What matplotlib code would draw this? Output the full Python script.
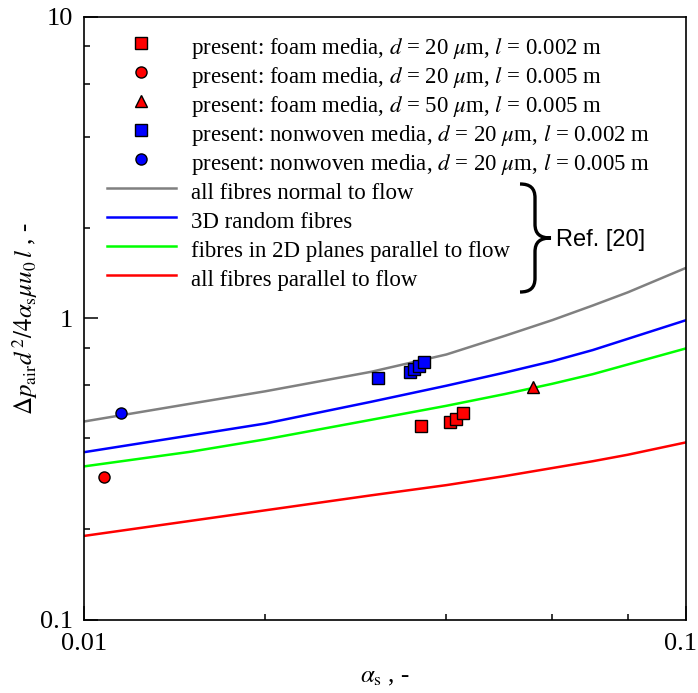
import numpy as np
import matplotlib
matplotlib.use('Agg')
import matplotlib.pyplot as plt
import matplotlib.transforms as mtransforms
from matplotlib.path import Path
from matplotlib.patches import PathPatch
from matplotlib.ticker import LogLocator, FixedLocator, NullFormatter

plt.rcParams['font.family'] = 'Liberation Serif'
plt.rcParams['mathtext.fontset'] = 'stix'

# model curves, Ref. [20]
alpha_model = [0.01, 0.015, 0.02, 0.03, 0.04, 0.05, 0.06, 0.07, 0.08, 0.1]
normal_flow = [0.455, 0.521, 0.573, 0.665, 0.759, 0.875, 0.987, 1.103, 1.219, 1.470]
random_3d = [0.360, 0.409, 0.448, 0.529, 0.598, 0.661, 0.721, 0.785, 0.855, 0.986]
planes_2d = [0.323, 0.361, 0.397, 0.461, 0.513, 0.561, 0.607, 0.653, 0.703, 0.795]
parallel_flow = [0.190, 0.213, 0.231, 0.259, 0.280, 0.300, 0.319, 0.336, 0.353, 0.388]

# measurements
foam20_l2_a = [0.0363, 0.0405, 0.0415, 0.0426]
foam20_l2_v = [0.441, 0.452, 0.464, 0.484]
foam20_l5_a = [0.0108]
foam20_l5_v = [0.298]
foam50_l5_a = [0.0557]
foam50_l5_v = [0.594]
nonw20_l2_a = [0.0308, 0.0348, 0.0354, 0.0360, 0.0367]
nonw20_l2_v = [0.636, 0.662, 0.678, 0.695, 0.715]
nonw20_l5_a = [0.0115]
nonw20_l5_v = [0.487]

fig = plt.figure(figsize=(6.98, 6.93), dpi=100)
ax = fig.add_axes([84/698, 1 - 620/693, 602/698, 603.3/693])

mk = dict(ls='none', ms=8, mec='black', mew=1.0)
ax.plot(foam20_l2_a, foam20_l2_v, marker='s', mfc='#ff0000', zorder=5, **mk,
        label=r'present: foam media, $d$ = 20 $\mu$m, $l$ = 0.002 m')
ax.plot(foam20_l5_a, foam20_l5_v, marker='o', mfc='#ff0000', zorder=5, **mk,
        label=r'present: foam media, $d$ = 20 $\mu$m, $l$ = 0.005 m')
ax.plot(foam50_l5_a, foam50_l5_v, marker='^', mfc='#ff0000', zorder=5, **mk,
        label=r'present: foam media, $d$ = 50 $\mu$m, $l$ = 0.005 m')
ax.plot(nonw20_l2_a, nonw20_l2_v, marker='s', mfc='#0000ff', zorder=5, **mk,
        label=r'present: nonwoven media, $d$ = 20 $\mu$m, $l$ = 0.002 m')
ax.plot(nonw20_l5_a, nonw20_l5_v, marker='o', mfc='#0000ff', zorder=5, **mk,
        label=r'present: nonwoven media, $d$ = 20 $\mu$m, $l$ = 0.005 m')

ax.plot(alpha_model, normal_flow, color='#808080', lw=1.8, label='all fibres normal to flow')
ax.plot(alpha_model, random_3d, color='#0000ff', lw=1.8, label='3D random fibres')
ax.plot(alpha_model, planes_2d, color='#00ff00', lw=1.8, label='fibres in 2D planes parallel to flow')
ax.plot(alpha_model, parallel_flow, color='#ff0000', lw=1.8, label='all fibres parallel to flow')

ax.set_xscale('log')
ax.set_yscale('log')
ax.set_xlim(0.01, 0.1)
ax.set_ylim(0.1, 10)
ax.xaxis.set_major_locator(FixedLocator([0.01, 0.1]))
ax.yaxis.set_major_locator(FixedLocator([0.1, 1, 10]))
ax.set_xticklabels(['0.01', '0.1'])
ax.set_yticklabels(['0.1', '1', '10'])
ax.xaxis.set_minor_locator(LogLocator(base=10, subs=[2, 4, 6, 8]))
ax.yaxis.set_minor_locator(LogLocator(base=10, subs=[2, 4, 6, 8]))
ax.xaxis.set_minor_formatter(NullFormatter())
ax.yaxis.set_minor_formatter(NullFormatter())
ax.tick_params(which='both', direction='in', top=False, right=False, width=1.1, labelsize=19)
ax.tick_params(which='major', length=10)
ax.tick_params(which='minor', length=4.5)
ax.tick_params(axis='x', pad=9)
ax.tick_params(axis='y', pad=8)
for s in ax.spines.values():
    s.set_linewidth(1.2)

# last x label sits at the figure edge, keep it inside
lab = ax.get_xticklabels()[-1]
lab.set_horizontalalignment('right')
lab.set_transform(lab.get_transform() + mtransforms.ScaledTranslation(0.11, 0, fig.dpi_scale_trans))

ax.set_xlabel(r'$\alpha_{\rm s}$ , -', fontsize=18, labelpad=8)
ax.set_ylabel(r'$\Delta p_{\rm air}d^{\,2}/4\alpha_{\rm s}\mu u_{\rm 0}\,l$ , -', fontsize=18, labelpad=0)

ax.legend(loc='upper left', bbox_to_anchor=(0.038, 0.974), frameon=False, fontsize=16.5,
          borderpad=0, borderaxespad=0, handlelength=3.0, handletextpad=0.65,
          handleheight=1.56, labelspacing=0.0, numpoints=1)

# brace next to the model curves
W, H = 698, 693
pts = [(520, 184), (530, 184), (535, 188), (535, 198), (535, 224),
       (535, 234), (540, 238), (551, 238),
       (540, 238), (535, 242), (535, 252), (535, 278),
       (535, 288), (530, 292), (520, 292)]
codes = [Path.MOVETO, Path.CURVE4, Path.CURVE4, Path.CURVE4, Path.LINETO,
         Path.CURVE4, Path.CURVE4, Path.CURVE4,
         Path.CURVE4, Path.CURVE4, Path.CURVE4, Path.LINETO,
         Path.CURVE4, Path.CURVE4, Path.CURVE4]
verts = [(x / W, 1 - y / H) for x, y in pts]
fig.add_artist(PathPatch(Path(verts, codes), fill=False, lw=2.4, ec='black',
                         transform=fig.transFigure, capstyle='butt'))
fig.text(556 / W, 1 - 240 / H, 'Ref. [20]', family='Liberation Sans', fontsize=17,
         va='center', ha='left')

fig.savefig('out.png', dpi=100)
